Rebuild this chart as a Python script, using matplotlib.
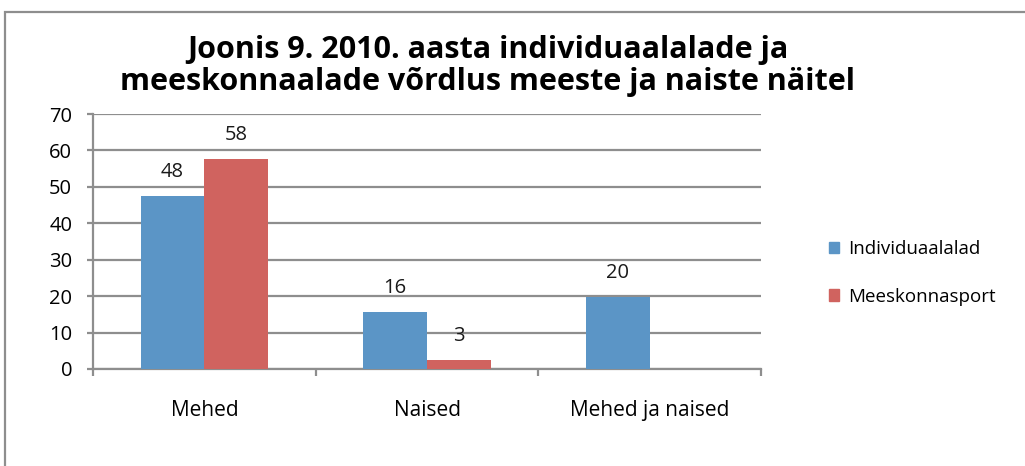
import numpy as np
import matplotlib
matplotlib.use("Agg")
import matplotlib.pyplot as plt
from matplotlib.patches import Rectangle, Patch

# data
categories = ["Mehed", "Naised", "Mehed ja naised"]
series_names = ["Individuaalalad", "Meeskonnasport"]
individuaal = [47.6, 15.7, 19.9]
meeskond = [57.6, 2.6, np.nan]      # no team-sport bar for the last group
yticks = [0, 10, 20, 30, 40, 50, 60, 70]

title = "Joonis 9. 2010. aasta individuaalalade ja\nmeeskonnaalade võrdlus meeste ja naiste näitel"

blue = "#5b95c6"
red = "#d0635f"
grid_gray = "#8e8e8e"

plt.rcParams['font.family'] = ['Open Sans', 'DejaVu Sans']

W, H = 1025, 466
fig = plt.figure(figsize=(W / 100, H / 100), dpi=100)

# outer chart border
fig.patches.append(Rectangle((5 / W, -0.02), 1.05, 1 - 12 / H + 0.02,
                             transform=fig.transFigure, fill=False,
                             edgecolor=grid_gray, lw=1.6))

ax = fig.add_axes([93 / W, 1 - 369 / H, (761 - 93) / W, (369 - 114) / H])

x = np.arange(len(categories))
bw = 1 / 3.5   # Excel gap width 150%
b1 = ax.bar(x - bw / 2, individuaal, bw, color=blue, label=series_names[0], zorder=3)
b2 = ax.bar(x + bw / 2, meeskond, bw, color=red, label=series_names[1], zorder=3)

for bars, vals in ((b1, individuaal), (b2, meeskond)):
    for rect, v in zip(bars, vals):
        if np.isnan(v):
            continue
        ax.annotate(f"{v:.0f}", (rect.get_x() + rect.get_width() / 2, v),
                    xytext=(0, 10), textcoords="offset points",
                    ha="center", va="bottom", fontsize=14.5, color="#1a1a1a")

ax.set_xlim(-0.5, len(categories) - 0.5)
ax.set_ylim(0, 70)
ax.set_yticks(yticks)
ax.yaxis.grid(True, color=grid_gray, lw=1.6, zorder=0)
ax.set_axisbelow(True)

ax.set_xticks(x)
ax.set_xticklabels(categories, fontsize=15)
ax.set_xticks(np.arange(len(categories) + 1) - 0.5, minor=True)
ax.tick_params(axis="x", which="major", length=0, pad=22)
ax.tick_params(axis="x", which="minor", length=5, width=1.6, color=grid_gray, direction="out")
ax.tick_params(axis="y", length=4, width=1.6, color=grid_gray, labelsize=14.5, pad=11)

for side in ("top", "right"):
    ax.spines[side].set_visible(False)
for side in ("left", "bottom"):
    ax.spines[side].set_color(grid_gray)
    ax.spines[side].set_linewidth(1.6)

fig.text(488 / W, 1 - 66 / H, title, ha="center", va="center",
         fontsize=22, fontweight="bold", linespacing=1.12)

handles = [Patch(color=blue), Patch(color=red)]
fig.legend(handles, series_names, loc="center left",
           bbox_to_anchor=(812 / W, 1 - 273 / H), frameon=False,
           fontsize=13.5, handlelength=0.55, handleheight=0.55,
           handletextpad=0.5, labelspacing=1.55)

fig.savefig("out.png", dpi=100)
